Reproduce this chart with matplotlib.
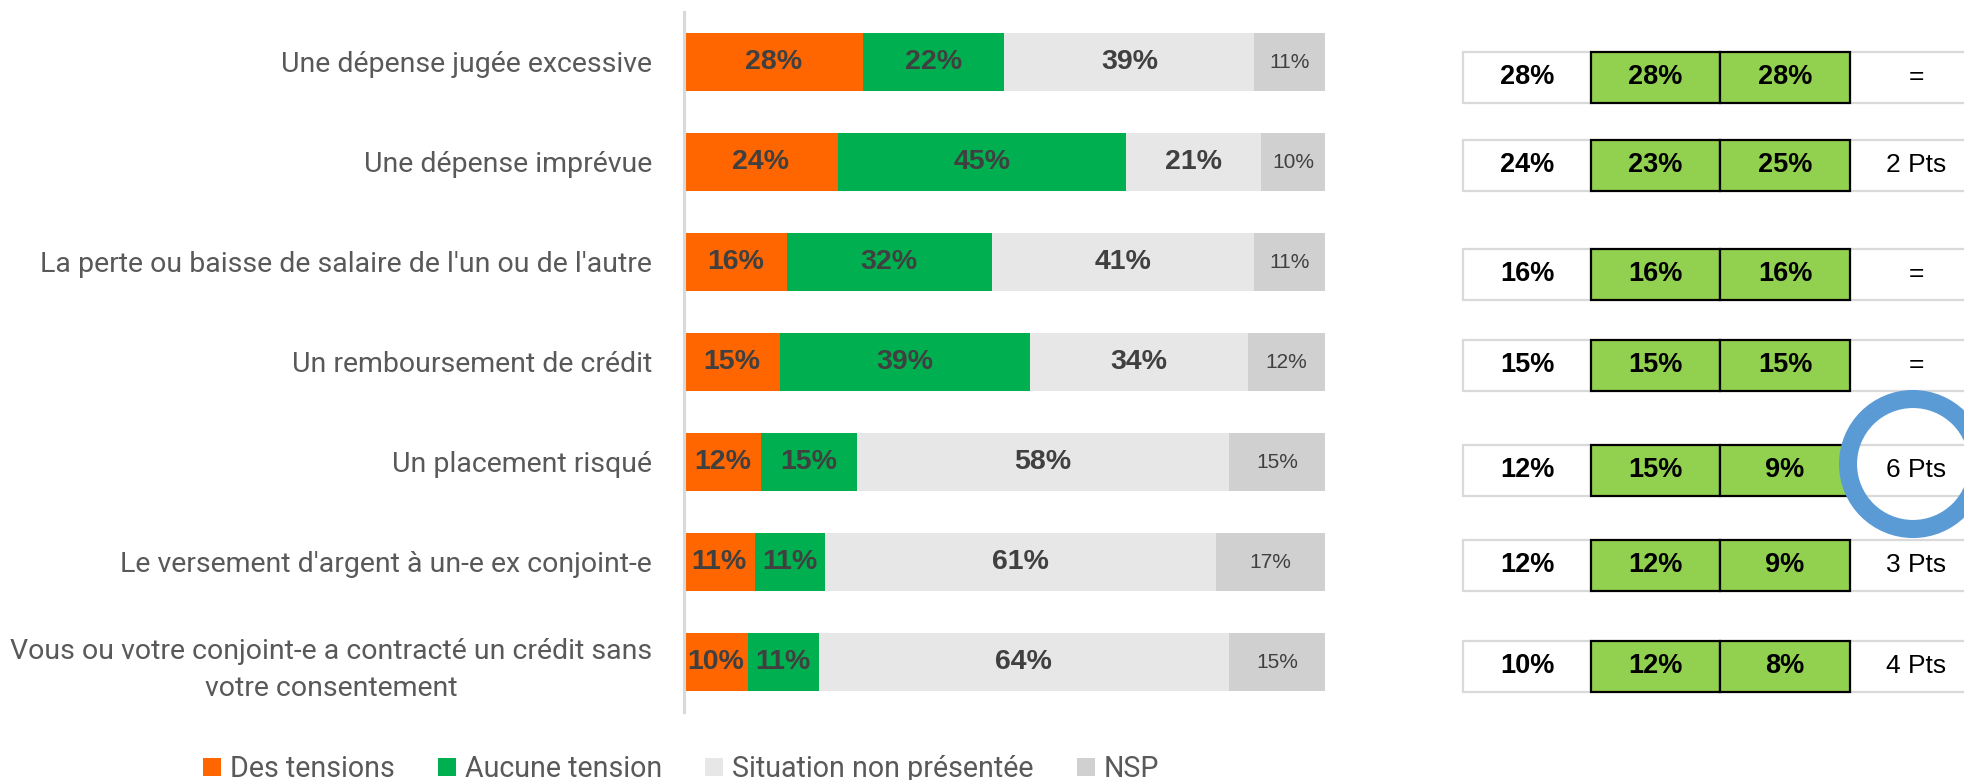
import matplotlib
matplotlib.use("Agg")
import matplotlib.pyplot as plt
from matplotlib.patches import Rectangle, Circle, Patch

# ---------------- data ----------------
categories = [
    "Une dépense jugée excessive",
    "Une dépense imprévue",
    "La perte ou baisse de salaire de l'un ou de l'autre",
    "Un remboursement de crédit",
    "Un placement risqué",
    "Le versement d'argent à un-e ex conjoint-e",
    "Vous ou votre conjoint-e a contracté un crédit sans\nvotre consentement",
]
series_names = ["Des tensions", "Aucune tension", "Situation non présentée", "NSP"]
des_tensions = [28, 24, 16, 15, 12, 11, 10]
aucune_tension = [22, 45, 32, 39, 15, 11, 11]
non_presentee = [39, 21, 41, 34, 58, 61, 64]
nsp = [11, 10, 11, 12, 15, 17, 15]

table_col1 = [28, 24, 16, 15, 12, 12, 10]
table_col2 = [28, 23, 16, 15, 15, 12, 12]
table_col3 = [28, 25, 16, 15, 9, 9, 8]
table_col4 = ["=", "2 Pts", "=", "=", "6 Pts", "3 Pts", "4 Pts"]
highlight_row = 4

# ---------------- style / layout ----------------
W, H = 1965, 780
colors = ["#FF6600", "#00B050", "#E7E7E7", "#D0D0D0"]
label_color = "#404040"
cat_color = "#595959"
table_green = "#92D050"
cell_gray = "#D9D9D9"
ring_color = "#5B9BD5"

table_row_centers = [77, 165, 274, 365, 470, 565, 666]
table_row_h = 51
col_edges = [1463, 1591, 1720, 1850, 1995]

fig = plt.figure(figsize=(W / 100, H / 100), dpi=100)

# ---------------- stacked bars ----------------
ax = fig.add_axes([684 / W, 1 - 712 / H, 641 / W, 700 / H])
ypos = list(range(len(categories)))
series = [des_tensions, aucune_tension, non_presentee, nsp]
lefts = [0] * len(categories)
for k, (vals, col) in enumerate(zip(series, colors)):
    ax.barh(ypos, vals, left=lefts, height=0.58, color=col, linewidth=0)
    for i, v in enumerate(vals):
        xc = lefts[i] + v / 2
        if k < 3:
            ax.text(xc, i, f"{v}%", ha="center", va="center", fontsize=20.5,
                    fontweight="bold", color=label_color, family="Liberation Sans")
        else:
            ax.text(xc, i, f"{v}%", ha="center", va="center", fontsize=15,
                    color=label_color, family="Liberation Sans")
    lefts = [a + b for a, b in zip(lefts, vals)]

ax.set_xlim(0, 100)
ax.set_ylim(len(categories) - 0.5, -0.5)
for s in ["top", "right", "bottom"]:
    ax.spines[s].set_visible(False)
ax.spines["left"].set_color(cell_gray)
ax.spines["left"].set_linewidth(2.2)
ax.set_xticks([])
ax.set_yticks(ypos)
ax.set_yticklabels(categories, fontsize=20.5, color=cat_color, family="Roboto",
                   multialignment="center", linespacing=1.5)
ax.tick_params(axis="y", length=0, pad=23)

# ---------------- comparison table ----------------
ov = fig.add_axes([0, 0, 1, 1])
ov.set_xlim(0, W)
ov.set_ylim(H, 0)
ov.axis("off")

for i, yc in enumerate(table_row_centers):
    top = yc - table_row_h / 2
    # column 1 (white, light grey border)
    ov.add_patch(Rectangle((col_edges[0], top), col_edges[1] - col_edges[0], table_row_h,
                           fc="white", ec=cell_gray, lw=1.6, zorder=1))
    # column 4 (white, grey top/bottom)
    ov.add_patch(Rectangle((col_edges[3], top), col_edges[4] - col_edges[3], table_row_h,
                           fc="white", ec=cell_gray, lw=1.6, zorder=1))
    # columns 2-3 (green, black border)
    for c in (1, 2):
        ov.add_patch(Rectangle((col_edges[c], top), col_edges[c + 1] - col_edges[c], table_row_h,
                               fc=table_green, ec="black", lw=1.6, zorder=2))
    vals = [table_col1[i], table_col2[i], table_col3[i]]
    for c, v in enumerate(vals):
        xc = (col_edges[c] + col_edges[c + 1]) / 2
        ov.text(xc, yc, f"{v}%", ha="center", va="center", fontsize=19.5,
                fontweight="bold", color="black", family="Liberation Sans", zorder=3)
    ov.text(1916, yc, table_col4[i], ha="center", va="center", fontsize=19,
            color="black", family="Liberation Sans", zorder=3)

# highlight ring
ov.add_patch(Circle((1913, table_row_centers[highlight_row] - 6), 65, fill=False,
                    ec=ring_color, lw=13, zorder=5))

# ---------------- legend ----------------
handles = [Patch(facecolor=c, edgecolor="none") for c in colors]
fig.legend(handles, series_names, ncol=4, loc="center left",
           bbox_to_anchor=(203 / W, 1 - 769 / H), frameon=False,
           prop={"family": "Roboto", "size": 20.6}, labelcolor=cat_color,
           handlelength=0.63, handleheight=0.63, handletextpad=0.32,
           columnspacing=1.5, borderpad=0, borderaxespad=0)

fig.savefig("out.png", dpi=100)
